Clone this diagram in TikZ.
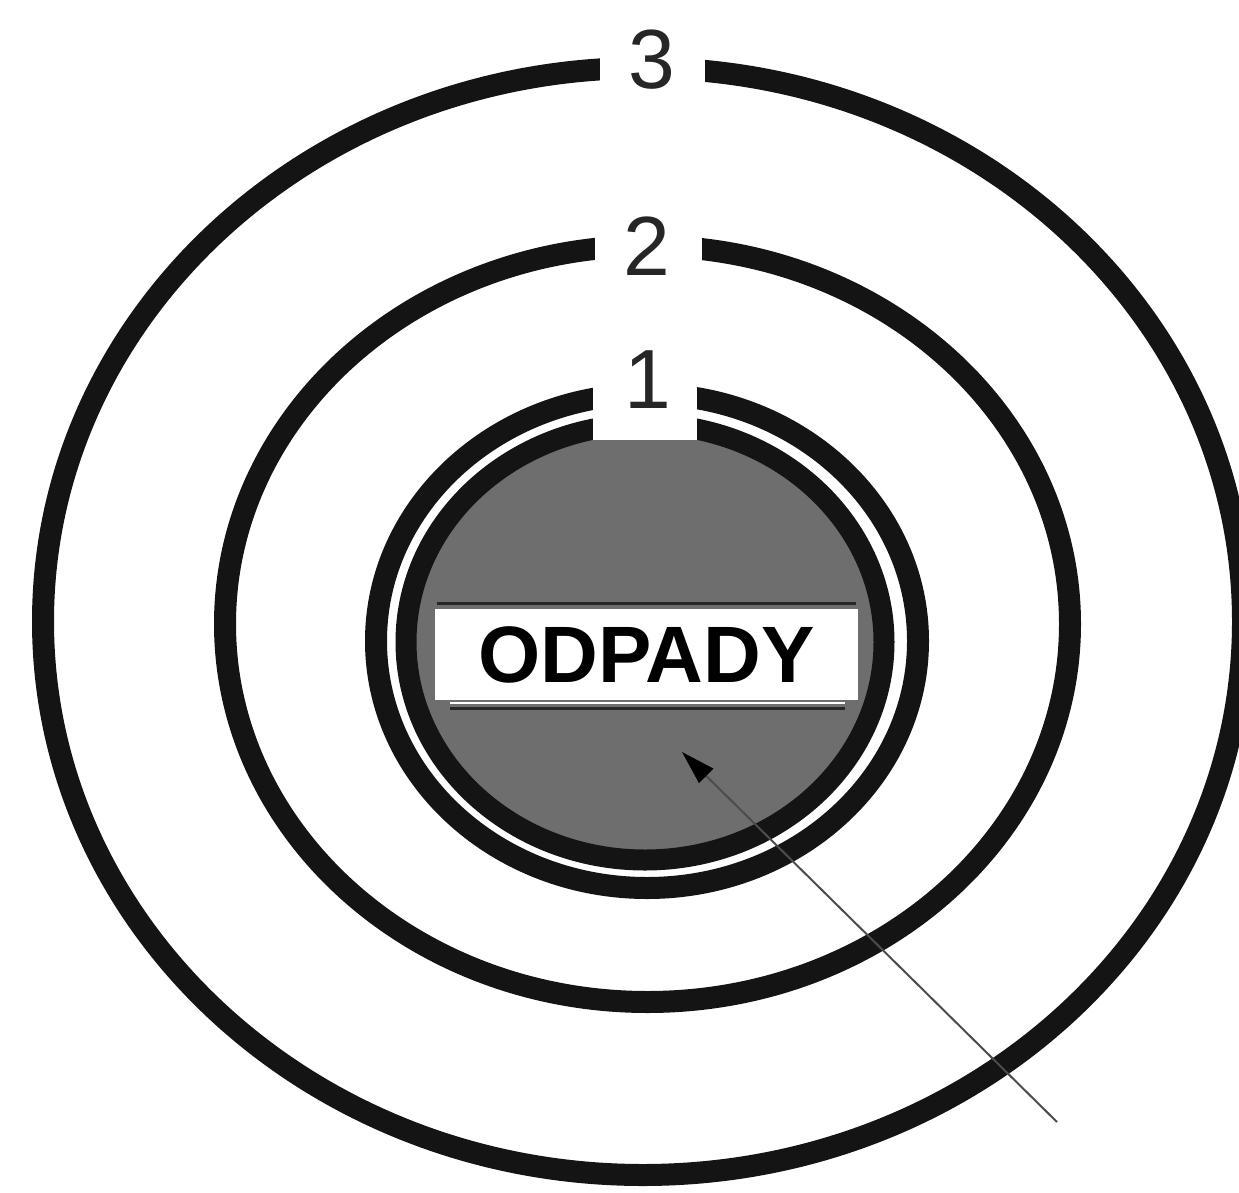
\documentclass[tikz,border=0pt]{standalone}
\usepackage{fontspec}
\setmainfont{Liberation Sans}
\usetikzlibrary{arrows.meta}
\begin{document}
\begin{tikzpicture}[x=1pt,y=-1pt,
  ring/.style={draw=black!92, line width=22pt},
  gapcut/.style={fill=white, draw=none},
  digit/.style={font=\fontsize{84}{84}\selectfont, inner sep=0pt, text=black!85},
  signbox/.style={fill=white, draw=none, minimum width=423pt, minimum height=91pt, inner sep=0pt,
    font=\fontsize{80}{80}\selectfont\bfseries},
  pointer/.style={draw=black!70, line width=2pt, -{Triangle[length=34pt,width=20pt,black,fill=black]}}]
\useasboundingbox (0,0) rectangle (1239,1193);
% ring 3 and ring 2
\draw[ring] (643,621.5) ellipse [x radius=600pt, y radius=553.5pt];
\draw[ring] (647.5,624) ellipse [x radius=422.5pt, y radius=378pt];
% grey core
\fill[black!57] (645,642) ellipse [x radius=232pt, y radius=211pt];
% ring 1 double band
\draw[ring] (647,641) ellipse [x radius=271pt, y radius=247pt];
\draw[ring, line width=21pt] (645,642) ellipse [x radius=239pt, y radius=218pt];
% gaps for labels
\fill[gapcut] (600,30) rectangle (705,110);
\fill[gapcut] (595,210) rectangle (702,290);
\fill[gapcut] (593,350) rectangle (697,440);
% labels
\node[digit] (l3) at (652,60) {3};
\node[digit] (l2) at (647,246) {2};
\node[digit] (l1) at (648,380) {1};
% sign box
\draw[black!85, line width=3pt] (437,603) -- (856,603);
\draw[white, line width=2pt] (450,703) -- (845,703);
\draw[black!85, line width=3pt] (450,708) -- (845,708);
\node[signbox] (box) at (646.5,654.5) {ODPADY};
% pointer
\coordinate (tail) at (1057,1122);
\coordinate (tip) at (682,752);
\draw[pointer] (tail) -- (tip);
\end{tikzpicture}
\end{document}
